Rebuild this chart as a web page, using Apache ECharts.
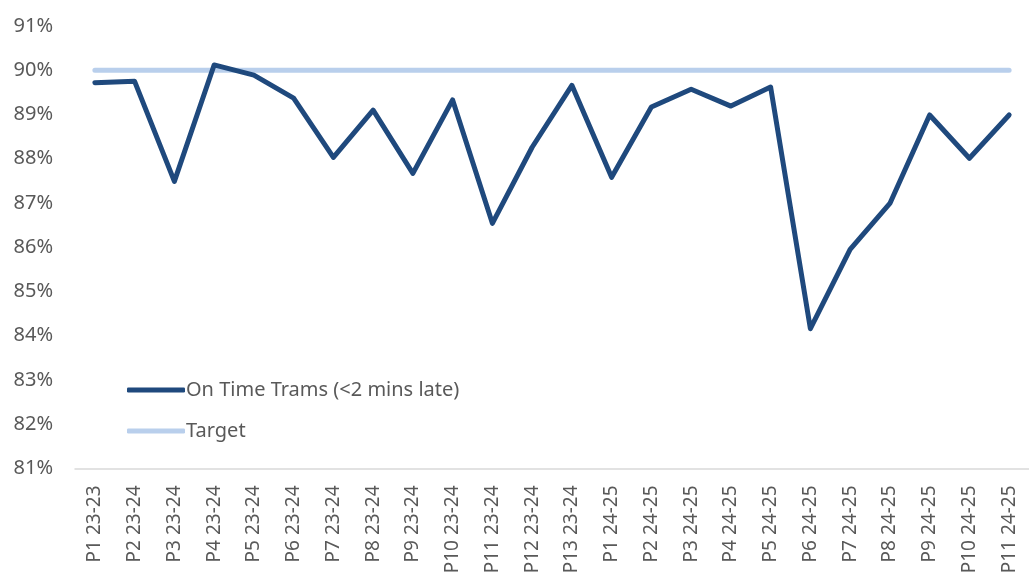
<!DOCTYPE html>
<html>
<head>
<meta charset="utf-8">
<script src="https://cdn.jsdelivr.net/npm/echarts@6/dist/echarts.min.js"></script>
<style>html,body{margin:0;padding:0;background:#fff;}#c{width:1029px;height:583px;}</style>
</head>
<body>
<div id="c"></div>
<script>
const categories = ["P1 23-23","P2 23-24","P3 23-24","P4 23-24","P5 23-24","P6 23-24","P7 23-24","P8 23-24","P9 23-24","P10 23-24","P11 23-24","P12 23-24","P13 23-24","P1 24-25","P2 24-25","P3 24-25","P4 24-25","P5 24-25","P6 24-25","P7 24-25","P8 24-25","P9 24-25","P10 24-25","P11 24-25"];
const onTime = [89.72,89.75,87.49,90.12,89.89,89.37,88.03,89.10,87.67,89.33,86.54,88.26,89.66,87.58,89.17,89.57,89.19,89.62,84.16,85.95,86.99,88.99,88.01,88.99];
const target = [90,90,90,90,90,90,90,90,90,90,90,90,90,90,90,90,90,90,90,90,90,90,90,90];
const seriesNames = ["On Time Trams (<2 mins late)", "Target"];

const chart = echarts.init(document.getElementById('c'));
const font = 'Noto Sans';
chart.setOption({
  animation: false,
  backgroundColor: '#fff',
  grid: { left: 75, top: 26, width: 968, bottom: 114.5, containLabel: false },
  legend: {
    orient: 'vertical', left: 122, top: 375,
    itemWidth: 58, itemHeight: 5, itemGap: 21,
    icon: 'roundRect',
    textStyle: { fontFamily: font, fontSize: 20, color: '#595959', padding: [0,0,0,-4] },
    data: seriesNames
  },
  xAxis: {
    type: 'category', data: categories, boundaryGap: true,
    axisLine: { lineStyle: { color: '#d9d9d9', width: 1.5 } },
    axisTick: { show: false },
    axisLabel: { rotate: 90, interval: 0, margin: 17, fontFamily: font, fontSize: 19, color: '#595959' }
  },
  yAxis: {
    type: 'value', min: 81, max: 91, interval: 1,
    axisLine: { show: false }, axisTick: { show: false }, splitLine: { show: false },
    axisLabel: { margin: 22, fontFamily: font, fontSize: 20, color: '#595959', formatter: v => v + '%' }
  },
  series: [
    { name: seriesNames[0], type: 'line', data: onTime, showSymbol: false, symbol: 'none', z: 3,
      lineStyle: { color: '#1F497D', width: 5, join: 'round', cap: 'round' }, itemStyle: { color: '#1F497D' } },
    { name: seriesNames[1], type: 'line', data: target, showSymbol: false, symbol: 'none', z: 2,
      lineStyle: { color: '#B9CFEC', width: 5, cap: 'round' }, itemStyle: { color: '#B9CFEC' } }
  ]
});
</script>
</body>
</html>
